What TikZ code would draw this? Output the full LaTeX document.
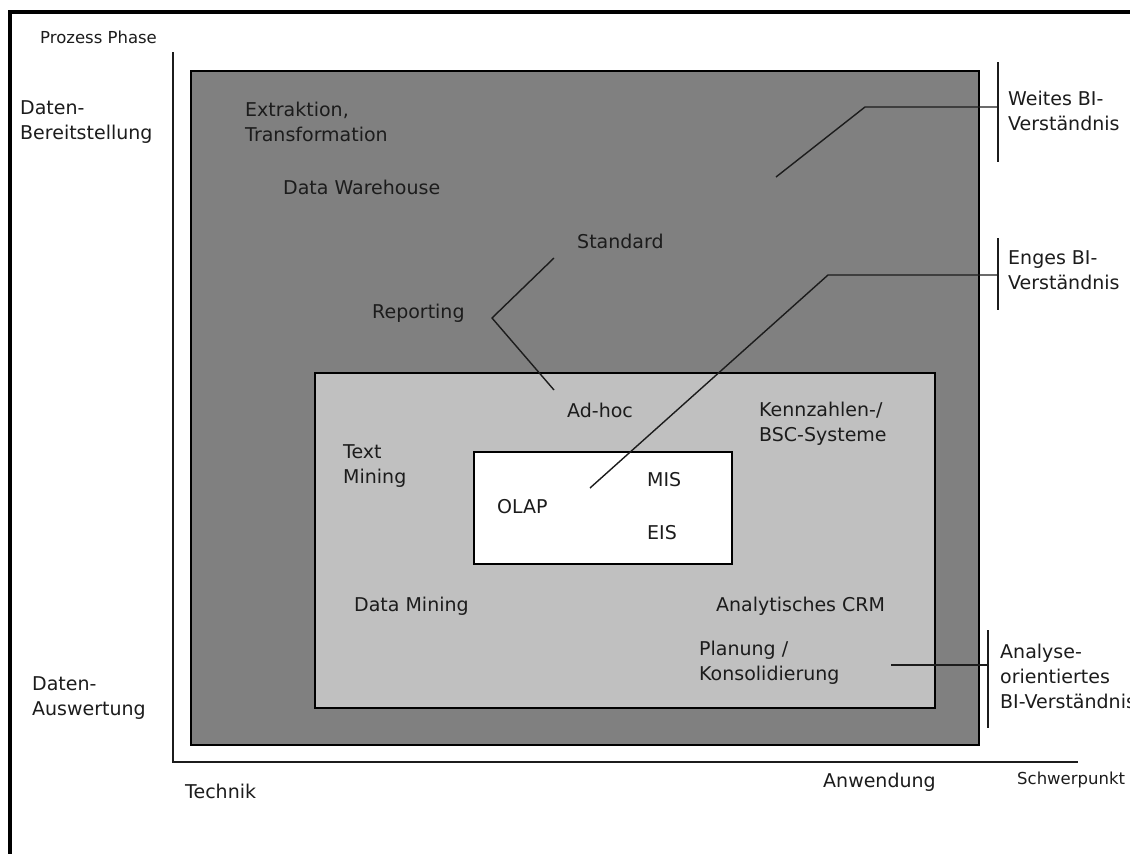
\documentclass[tikz,border=0pt]{standalone}
\usepackage{fontspec}
\setmainfont{DejaVu Sans}
\definecolor{darkfill}{RGB}{128,128,128}
\definecolor{lightfill}{RGB}{192,192,192}
\definecolor{ink}{RGB}{28,28,28}
\begin{document}
\begin{tikzpicture}[x=1pt,y=-1pt,
  lbl/.style={anchor=west, inner sep=0pt, align=left, text=ink,
              font=\fontsize{19}{25}\selectfont},
  small/.style={anchor=west, inner sep=0pt, text=ink,
              font=\fontsize{16.5}{20}\selectfont},
  box/.style={draw=black, line width=1.5pt, anchor=north west,
              inner sep=0pt, outer sep=0pt},
  link/.style={draw=ink, line width=1.4pt},
  axis/.style={draw=ink, line width=2pt},
  bracket/.style={draw=ink, line width=1.6pt}]
\useasboundingbox (0,0) rectangle (1130,854);
\fill[white] (0,0) rectangle (1130,854);

% outer frame (left and top edges)
\draw[line width=3.5pt, black] (10,880) -- (10,12) -- (1150,12);

% axes
\coordinate (ytop) at (173,52);
\coordinate (origin) at (173,762);
\coordinate (xend) at (1078,762);
\draw[axis] (ytop) -- (origin) -- (xend);

% nested areas
\node[box, fill=darkfill, minimum width=788pt, minimum height=674pt] (wide) at (191,71) {};
\node[box, fill=lightfill, minimum width=620pt, minimum height=335pt] (narrow) at (315,373) {};
\node[box, fill=white, minimum width=258pt, minimum height=112pt] (core) at (474,452) {};

% axis labels
\node[small] (phase) at (40,37) {Prozess Phase};
\node[lbl] (bereit) at (20,122) {Daten-\\Bereitstellung};
\node[lbl] (auswert) at (32,698) {Daten-\\Auswertung};
\node[lbl] (technik) at (185,791) {Technik};
\node[lbl] (anwend) at (823,782) {Anwendung};
\node[small] (schwer) at (1017,780) {Schwerpunkt};

% contents
\node[lbl] (etl) at (245,122) {Extraktion,\\Transformation};
\node[lbl] (dwh) at (283,187) {Data Warehouse};
\node[lbl] (std) at (577,241) {Standard};
\node[lbl] (rep) at (372,313) {Reporting};
\node[lbl] (adhoc) at (567,410) {Ad-hoc};
\node[lbl] (kpi) at (759,424) {Kennzahlen-/\\BSC-Systeme};
\node[lbl] (tm) at (343,466) {Text\\Mining};
\node[lbl] (olap) at (497,507) {OLAP};
\node[lbl] (mis) at (647,480) {MIS};
\node[lbl] (eis) at (647,533) {EIS};
\node[lbl] (dm) at (354,606) {Data Mining};
\node[lbl] (crm) at (716,606) {Analytisches CRM};
\node[lbl] (plan) at (699,663) {Planung /\\Konsolidierung};

% scope labels
\node[lbl] (weit) at (1008,111) {Weites BI-\\Verständnis};
\node[lbl] (eng) at (1008,270) {Enges BI-\\Verständnis};
\node[lbl] (analyse) at (1000,676) {Analyse-\\orientiertes\\BI-Verständnis};

% reporting fork
\coordinate (repfork) at (492,318);
\coordinate (repstd) at (554,258);
\coordinate (repadhoc) at (554,390);
\draw[link] (repstd) -- (repfork) -- (repadhoc);

% brackets and leaders
\coordinate (wtop) at (998,62);
\coordinate (wbot) at (998,162);
\coordinate (wmid) at (998,107);
\coordinate (wknee) at (865,107);
\coordinate (wend) at (776,177);
\draw[bracket] (wtop) -- (wbot);
\draw[link] (wmid) -- (wknee) -- (wend);

\coordinate (etop) at (998,238);
\coordinate (ebot) at (998,310);
\coordinate (emid) at (998,275);
\coordinate (eknee) at (828,275);
\coordinate (eend) at (590,488);
\draw[bracket] (etop) -- (ebot);
\draw[link] (emid) -- (eknee) -- (eend);

\coordinate (atop) at (988,630);
\coordinate (abot) at (988,728);
\coordinate (amid) at (988,665);
\coordinate (aend) at (891,665);
\draw[bracket] (atop) -- (abot);
\draw[link] (amid) -- (aend);
\end{tikzpicture}
\end{document}
